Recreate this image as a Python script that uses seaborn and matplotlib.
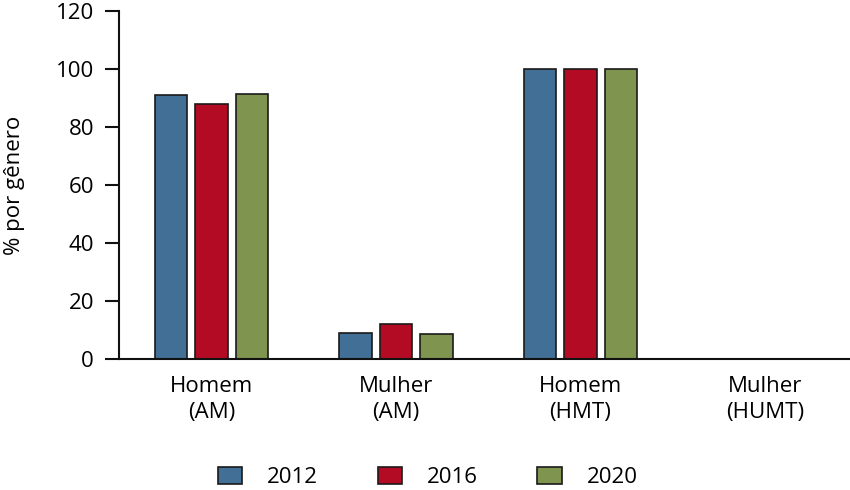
import matplotlib
matplotlib.use("Agg")
import matplotlib.pyplot as plt
import seaborn as sns
import pandas as pd

categories = ["Homem\n(AM)", "Mulher\n(AM)", "Homem\n(HMT)", "Mulher\n(HUMT)"]
years = ["2012", "2016", "2020"]
v2012 = [90.9, 9.1, 100, 0]
v2016 = [87.8, 12.1, 100, 0]
v2020 = [91.3, 8.6, 100, 0]
colors = ["#426f95", "#b30b24", "#7e944f"]

rows = []
for yr, vals in zip(years, [v2012, v2016, v2020]):
    for c, v in zip(categories, vals):
        rows.append({"cat": c, "year": yr, "val": v})
df = pd.DataFrame(rows)

sns.set_style("white")
plt.rcParams["font.family"] = ["Open Sans", "DejaVu Sans"]
plt.rcParams["text.color"] = "black"
plt.rcParams["axes.labelcolor"] = "black"
plt.rcParams["xtick.color"] = "black"
plt.rcParams["ytick.color"] = "black"

fig = plt.figure(figsize=(8.5, 4.9), dpi=100)
ax = fig.add_axes([0.14, 0.267, 0.86, 0.711])
sns.barplot(data=df, x="cat", y="val", hue="year", palette=colors,
            width=0.659, gap=0.2, edgecolor="#1a1a1a", linewidth=1.2,
            saturation=1, ax=ax, legend=True)

ax.set_ylim(0, 120)
ax.set_yticks(range(0, 121, 20))
ax.set_xlim(-0.5, 3.46)
ax.set_xlabel("")
ax.set_ylabel("% por gênero", fontsize=16, labelpad=22)
sns.despine(ax=ax)
for s in ["left", "bottom"]:
    ax.spines[s].set_linewidth(1.5)
    ax.spines[s].set_color("#111111")
ax.tick_params(axis="y", length=10, width=1.5, labelsize=16, direction="out", left=True, pad=8, color="#111111")
ax.tick_params(axis="x", length=0, labelsize=16, pad=12)
for t in ax.get_xticklabels():
    t.set_linespacing(1.35)

handles, labels = ax.get_legend_handles_labels()
ax.get_legend().remove()
fig.legend(handles, labels, loc="center", bbox_to_anchor=(0.503, 0.025), ncol=3, frameon=False,
           fontsize=16, handlelength=1.1, handleheight=0.8, columnspacing=2.7, handletextpad=1.1)

fig.savefig("out.png", dpi=100)
